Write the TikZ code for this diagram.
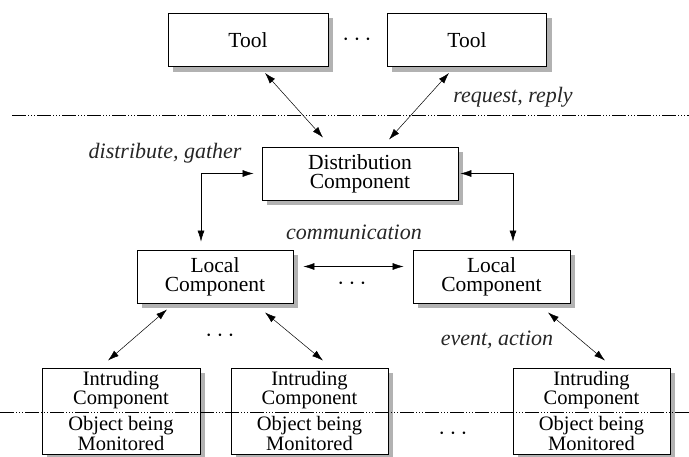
\documentclass[tikz,border=0pt]{standalone}
\usepackage{fontspec}
\setmainfont{Liberation Serif}
\usetikzlibrary{arrows.meta,backgrounds}

\begin{document}
\begin{tikzpicture}[x=1pt, y=-1pt,
  box/.style={draw, line width=0.9pt, fill=white, align=center, inner sep=0pt,
    minimum height=53pt, font=\fontsize{21.5}{19}\selectfont},
  intrbox/.style={box, minimum height=86pt, font=\fontsize{20.5}{15.5}\selectfont},
  biarrow/.style={{Latex[length=11pt,width=7pt]}-{Latex[length=11pt,width=7pt]}, line width=0.5pt},
  lbl/.style={font=\fontsize{22}{17}\selectfont\itshape, text=black!85},
  dotsmark/.style={font=\fontsize{26}{26}\selectfont, inner sep=0pt},
  sep/.style={line width=0.6pt, dash pattern=on 14pt off 2pt on 1pt off 2pt on 1pt off 2pt on 1pt off 2pt}]
  \useasboundingbox (0,0) rectangle (689,457);

  % Tools
  \node[box, minimum width=160pt] (tool1) at (248,40) {Tool};
  \node[box, minimum width=159pt] (tool2) at (467,40) {Tool};
  \node[dotsmark] (dots1) at (357,40) {$\cdots$};

  % Distribution component
  \node[box, minimum width=196pt] (dist) at (360,173.5) {Distribution\\Component};

  % Local components
  \node[box, minimum width=156pt] (local1) at (215,276.5) {Local\\Component};
  \node[box, minimum width=157pt] (local2) at (491.5,276.5) {Local\\Component};
  \node[dotsmark] (dots2) at (352,284) {$\cdots$};

  % Intruding components
  \node[intrbox, minimum width=158pt] (intr1) at (121,411) {Intruding\\Component\\[6pt]Object being\\Monitored};
  \node[intrbox, minimum width=157pt] (intr2) at (309.5,411) {Intruding\\Component\\[6pt]Object being\\Monitored};
  \node[intrbox, minimum width=157pt] (intr3) at (591.5,411) {Intruding\\Component\\[6pt]Object being\\Monitored};
  \node[dotsmark] (dots3) at (220,336) {$\cdots$};
  \node[dotsmark] (dots4) at (453,434) {$\cdots$};

  % Shadows
  \begin{scope}[on background layer]
    \foreach \n in {tool1,tool2,dist,local1,local2,intr1,intr2,intr3}
      \fill[black!30] ([xshift=5pt,yshift=-5pt]\n.south west) rectangle ([xshift=5pt,yshift=-5pt]\n.north east);
  \end{scope}

  % Separators
  \draw[sep] (12,115) -- (689,115);
  \draw[sep] (0,412) -- (689,412);

  % Edges
  \draw[biarrow] ([xshift=17pt,yshift=-6pt]tool1.south) -- ([xshift=-37pt,yshift=9pt]dist.north);
  \draw[biarrow] ([xshift=-18pt,yshift=-6pt]tool2.south) -- ([xshift=29pt,yshift=7pt]dist.north);
  \draw[biarrow] ([xshift=-8pt]dist.west) -| ([xshift=-14pt,yshift=8pt]local1.north);
  \draw[biarrow] ([xshift=2pt]dist.east) -| ([xshift=21.5pt,yshift=8pt]local2.north);
  \draw[biarrow] ([xshift=10pt,yshift=10pt]local1.east) -- ([xshift=-9pt,yshift=10pt]local2.west);
  \draw[biarrow] ([xshift=-48pt,yshift=-6pt]local1.south) -- ([xshift=-13pt,yshift=7pt]intr1.north);
  \draw[biarrow] ([xshift=50pt,yshift=-9pt]local1.south) -- ([xshift=13.5pt,yshift=7pt]intr2.north);
  \draw[biarrow] ([xshift=56.5pt,yshift=-9pt]local2.south) -- ([xshift=13.5pt,yshift=7pt]intr3.north);

  % Labels
  \node[lbl] (reqlbl) at (513,97) {request, reply};
  \node[lbl, anchor=east] (distlbl) at (245,153) {distribute, gather};
  \node[lbl] (commlbl) at (354,232) {communication};
  \node[lbl] (evlbl) at (497,340) {event, action};
\end{tikzpicture}
\end{document}
